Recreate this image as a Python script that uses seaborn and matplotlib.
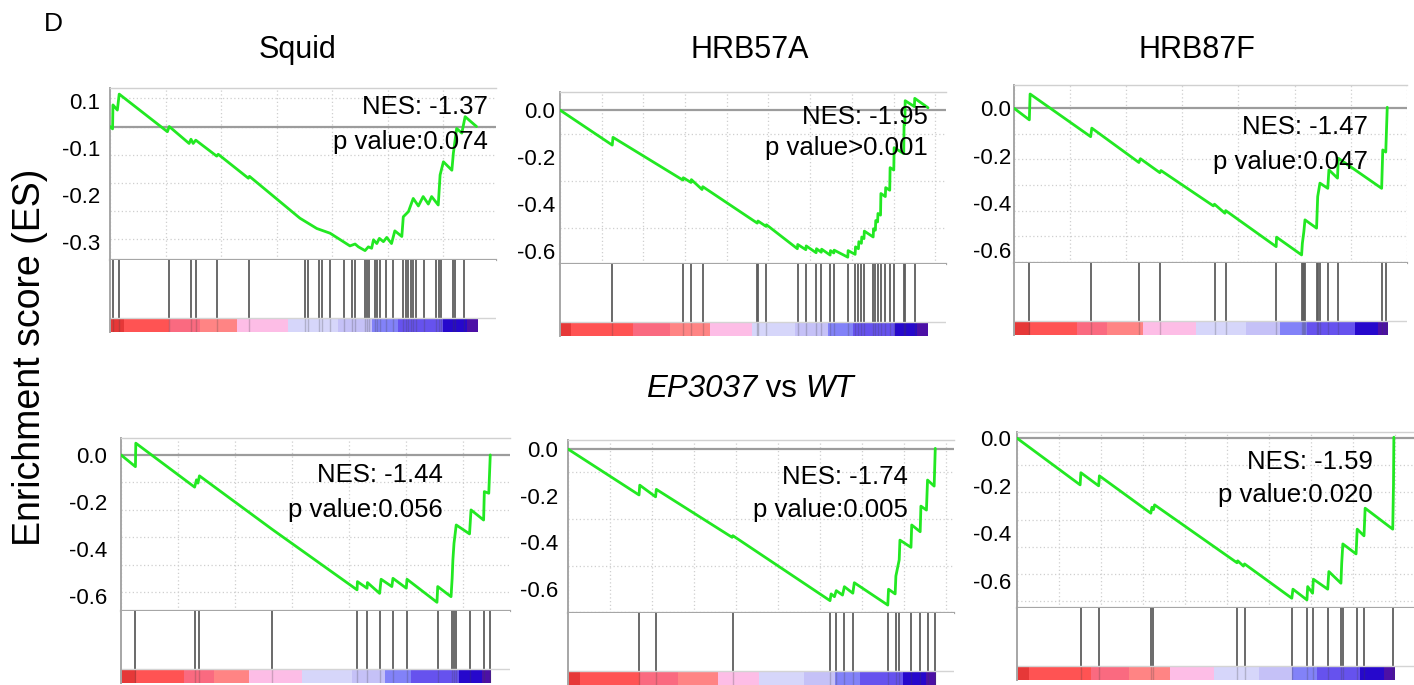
import numpy as np
import matplotlib
matplotlib.use("Agg")
import matplotlib.pyplot as plt
import seaborn as sns
from matplotlib.ticker import MultipleLocator

# ---- data --------------------------------------------------------------
# x = position in the ranked gene list (%), y = running enrichment score
genes = ["Squid", "HRB57A", "HRB87F"]
nes_top = ["-1.37", "-1.95", "-1.47"]
pval_top = [":0.074", ">0.001", ":0.047"]
nes_bot = ["-1.44", "-1.74", "-1.59"]
pval_bot = [":0.056", ":0.005", ":0.020"]

squid_top_x = [0, 0.7, 0.8, 2.0, 2.5, 15.6, 16.1, 21.5, 22.0, 22.6, 23.3, 29.0, 29.4, 37.6, 37.9,
               51.6, 56.2, 59.8, 63.4, 65.2, 66.6, 67.5, 69.3, 70.2, 71.1, 71.6, 72.5, 73.2, 74.3,
               75.2, 76.5, 77.4, 79.3, 79.7, 81.1, 82.4, 83.8, 85.1, 86.5, 87.4, 89.2, 89.7, 90.6,
               92.9, 93.3, 94.2, 95.6, 96.5, 99.6]
squid_top_y = [0, -0.005, 0.046, 0.035, 0.069, -0.011, 0.0, -0.036, -0.027, -0.036, -0.029, -0.063,
               -0.059, -0.110, -0.106, -0.195, -0.217, -0.227, -0.245, -0.254, -0.250, -0.256,
               -0.264, -0.256, -0.259, -0.241, -0.249, -0.238, -0.245, -0.236, -0.249, -0.222,
               -0.234, -0.192, -0.181, -0.153, -0.169, -0.149, -0.165, -0.149, -0.167, -0.103,
               -0.075, -0.093, -0.057, -0.004, -0.014, 0.021, 0.0]
squid_top_hits = [0.7, 2.4, 15.9, 22.0, 23.4, 29.2, 37.8, 52.9, 53.9, 56.7, 57.6, 59.8, 63.5, 65.8,
                  66.6, 69.3, 69.8, 70.4, 72.0, 72.6, 73.4, 75.0, 76.9, 79.5, 80.3, 81.1, 81.7,
                  82.3, 83.2, 85.2, 88.6, 89.3, 89.9, 93.3, 93.8, 96.3]

h57_top_x = [0, 14.2, 14.4, 33.4, 33.5, 35.6, 35.7, 38.6, 38.8, 53.6, 53.8, 56.0, 56.1, 64.5, 64.6,
             66.8, 66.9, 69.6, 69.7, 71.0, 71.1, 73.4, 73.5, 74.4, 74.5, 78.2, 78.3, 80.2, 80.3,
             81.1, 81.2, 81.9, 82.0, 82.6, 82.7, 85.1, 85.2, 85.7, 85.8, 86.3, 86.4, 87.1, 87.2,
             88.4, 88.5, 89.6, 89.7, 90.7, 90.8, 93.4, 93.5, 93.7, 93.8, 96.3, 96.4, 100]
h57_top_y = [0, -0.149, -0.116, -0.298, -0.288, -0.308, -0.296, -0.338, -0.326, -0.481, -0.472,
             -0.495, -0.488, -0.590, -0.572, -0.594, -0.578, -0.607, -0.590, -0.605, -0.592,
             -0.617, -0.598, -0.608, -0.596, -0.626, -0.598, -0.614, -0.582, -0.590, -0.560,
             -0.567, -0.540, -0.547, -0.515, -0.540, -0.505, -0.511, -0.470, -0.476, -0.440,
             -0.447, -0.355, -0.368, -0.330, -0.341, -0.245, -0.255, -0.160, -0.185, -0.060,
             -0.062, 0.040, 0.015, 0.050, 0.010]
h57_top_hits = [14.2, 33.4, 35.6, 38.8, 53.5, 53.8, 56.0, 64.6, 66.8, 69.6, 71.0, 73.4, 74.4, 78.2,
                80.2, 81.1, 81.9, 82.6, 85.1, 85.7, 86.3, 87.1, 88.4, 89.6, 90.7, 93.4, 93.7, 96.4]

h87_top_x = [0, 4.1, 4.3, 20.5, 20.8, 33.4, 33.8, 39.0, 39.3, 53.3, 53.6, 56.4, 56.6, 70.1, 70.2,
             76.9, 77.1, 77.5, 77.8, 80.9, 81.2, 81.8, 83.9, 84.2, 86.5, 86.7, 98.3, 98.6, 99.4, 99.8]
h87_top_y = [0, -0.049, 0.060, -0.120, -0.084, -0.229, -0.213, -0.272, -0.263, -0.412, -0.405,
             -0.443, -0.432, -0.584, -0.544, -0.619, -0.570, -0.521, -0.471, -0.506, -0.373,
             -0.316, -0.338, -0.260, -0.295, -0.211, -0.338, -0.176, -0.185, 0.004]
h87_top_hits = [4.1, 20.5, 33.5, 39.0, 53.7, 56.7, 70.1, 76.9, 77.2, 77.5, 77.8, 80.9, 81.4, 81.8,
                84.0, 86.5, 98.3, 99.5]

squid_bot_x = [0, 3.9, 4.0, 19.9, 20.4, 20.8, 21.2, 40.8, 63.8, 63.9, 66.5, 66.6, 69.9, 70.3, 73.2,
               73.5, 77.1, 77.3, 85.4, 85.6, 89.2, 89.5, 89.7, 90.0, 90.6, 94.2, 94.6, 98.0, 98.2,
               99.4, 99.8]
squid_bot_y = [0, -0.050, 0.050, -0.137, -0.106, -0.120, -0.089, -0.316, -0.574, -0.539, -0.567,
               -0.543, -0.589, -0.529, -0.560, -0.525, -0.567, -0.529, -0.627, -0.560, -0.603,
               -0.525, -0.447, -0.376, -0.298, -0.336, -0.234, -0.277, -0.156, -0.163, 0.0]
squid_bot_hits = [3.9, 19.9, 21.0, 40.8, 63.8, 66.5, 70.1, 73.4, 77.3, 85.6, 89.5, 89.9, 90.6,
                  94.4, 98.0, 99.8]

h57_bot_x = [0, 19.3, 19.5, 23.8, 24.0, 44.6, 44.8, 71.2, 71.5, 72.4, 72.9, 74.6, 75.1, 77.4, 77.8,
             86.9, 87.1, 88.9, 89.1, 90.0, 90.2, 93.2, 93.4, 95.7, 95.9, 97.4, 97.7, 99.5, 99.8]
h57_bot_y = [0, -0.197, -0.155, -0.205, -0.173, -0.379, -0.372, -0.651, -0.622, -0.634, -0.608,
             -0.627, -0.591, -0.619, -0.574, -0.670, -0.602, -0.622, -0.545, -0.476, -0.391,
             -0.422, -0.326, -0.355, -0.245, -0.262, -0.133, -0.159, 0.003]
h57_bot_hits = [19.3, 23.8, 44.8, 71.2, 72.9, 74.9, 77.4, 86.9, 89.1, 90.0, 93.2, 95.7, 97.7, 99.7]

h87_bot_x = [0, 16.7, 16.9, 21.6, 21.8, 35.4, 35.7, 36.1, 36.4, 58.2, 58.4, 59.9, 60.2, 72.7, 73.0,
             76.7, 76.9, 78.2, 78.4, 82.2, 82.5, 85.7, 85.9, 86.2, 89.7, 90.0, 91.8, 92.1, 99.4,
             99.6, 99.7]
h87_bot_y = [0, -0.196, -0.145, -0.200, -0.158, -0.315, -0.290, -0.300, -0.280, -0.523, -0.515,
             -0.537, -0.528, -0.672, -0.634, -0.679, -0.623, -0.651, -0.592, -0.634, -0.560,
             -0.609, -0.525, -0.444, -0.486, -0.382, -0.410, -0.294, -0.382, -0.196, 0.004]
h87_bot_hits = [16.9, 21.6, 35.5, 36.1, 58.2, 60.2, 72.7, 76.7, 78.2, 82.2, 85.7, 86.2, 89.9, 91.9,
                99.6]

# ranked-list colour bar: segment edges (%) and colours
band_colors = ["#e63838", "#ff5353", "#fa6a80", "#ff8484", "#fdbde6", "#d6d6fa",
               "#c5c1f7", "#8282f8", "#6652ee", "#2608cc", "#4c10a6"]
bands_squid_top = [0, 3.8, 16.0, 24.5, 34.5, 48.4, 62.0, 71.1, 78.3, 90.6, 96.9, 100]
bands_h57_top = [0, 3.0, 19.8, 29.9, 40.8, 52.2, 63.9, 72.8, 79.6, 91.0, 97.0, 100]
bands_h87_top = [0, 4.3, 16.8, 24.8, 34.6, 48.7, 62.0, 71.1, 78.3, 91.2, 97.4, 100]
bands_squid_bot = [0, 4.1, 17.1, 25.0, 34.6, 48.8, 62.3, 71.3, 78.5, 91.3, 97.5, 100]
bands_h57_bot = [0, 3.2, 19.5, 29.9, 40.7, 52.0, 64.2, 72.6, 79.4, 90.9, 97.2, 100]
bands_h87_bot = [0, 3.1, 19.7, 29.6, 40.6, 52.2, 64.1, 72.7, 79.3, 90.7, 97.1, 100]

# y tick labels as printed in the figure
squid_top_ticks = [0.054, -0.046, -0.146, -0.246]
squid_top_ticklabels = ["0.1", "-0.1", "-0.2", "-0.3"]
std_ticks = [0.0, -0.2, -0.4, -0.6]
std_ticklabels = ["0.0", "-0.2", "-0.4", "-0.6"]

# ---- layout (pixels of the 1414x685 canvas) -------------------------------
W, H = 1414, 685
GREEN = "#22e822"

panels = [
    # left, es_top, es_bottom, bar width, ylim, grid dx, grid dy, tick pad, nes xy, p y
    dict(x=squid_top_x, y=squid_top_y, hits=squid_top_hits, bands=bands_squid_top,
         ticks=squid_top_ticks, labels=squid_top_ticklabels, nes=nes_top[0], p=pval_top[0],
         left=110, top=88, bot=260, bw=368, ylim=(-0.284, 0.082), gdx=15.1, gdy=0.06,
         pad=7, tx=0.979, ty=(0.89, 0.686)),
    dict(x=h57_top_x, y=h57_top_y, hits=h57_top_hits, bands=bands_h57_top,
         ticks=std_ticks, labels=std_ticklabels, nes=nes_top[1], p=pval_top[1],
         left=560, top=92, bot=264, bw=368, ylim=(-0.655, 0.077), gdx=11.33, gdy=0.1,
         pad=3.5, tx=0.953, ty=(0.855, 0.674)),
    dict(x=h87_top_x, y=h87_top_y, hits=h87_top_hits, bands=bands_h87_top,
         ticks=std_ticks, labels=std_ticklabels, nes=nes_top[2], p=pval_top[2],
         left=1014, top=85, bot=263, bw=374, ylim=(-0.653, 0.098), gdx=15.0, gdy=0.108,
         pad=2, tx=0.901, ty=(0.764, 0.567)),
    dict(x=squid_bot_x, y=squid_bot_y, hits=squid_bot_hits, bands=bands_squid_bot,
         ticks=std_ticks, labels=std_ticklabels, nes=nes_bot[0], p=pval_bot[0],
         left=121, top=438, bot=611, bw=370, ylim=(-0.664, 0.072), gdx=15.4, gdy=0.117,
         pad=10, tx=0.829, ty=(0.786, 0.584)),
    dict(x=h57_bot_x, y=h57_bot_y, hits=h57_bot_hits, bands=bands_h57_bot,
         ticks=std_ticks, labels=std_ticklabels, nes=nes_bot[1], p=pval_bot[1],
         left=568, top=440, bot=613, bw=368, ylim=(-0.704, 0.039), gdx=11.4, gdy=0.1,
         pad=7, tx=0.879, ty=(0.786, 0.595)),
    dict(x=h87_bot_x, y=h87_bot_y, hits=h87_bot_hits, bands=bands_h87_bot,
         ticks=std_ticks, labels=std_ticklabels, nes=nes_bot[2], p=pval_bot[2],
         left=1017, top=432, bot=608, bw=378, ylim=(-0.713, 0.026), gdx=11.1, gdy=0.114,
         pad=4, tx=0.897, ty=(0.830, 0.642)),
]

sns.set_style("white")
plt.rcParams["font.family"] = ["Liberation Sans", "DejaVu Sans"]
plt.rcParams["text.color"] = "black"

fig = plt.figure(figsize=(W / 100, H / 100), dpi=100)


def px_axes(left, top, width, height):
    return fig.add_axes([left / W, 1 - (top + height) / H, width / W, height / H])


XMAX = 105
HITS_H = 72
BAR_H = 14

for pnl in panels:
    width = pnl["bw"] * XMAX / 100

    # running enrichment score
    ax = px_axes(pnl["left"], pnl["top"], width, pnl["bot"] - pnl["top"])
    ax.axhline(0, color="#9c9c9c", lw=1.6, zorder=1)
    sns.lineplot(x=pnl["x"], y=pnl["y"], ax=ax, color=GREEN, lw=2.0,
                 sort=False, estimator=None, zorder=3)
    ax.set_xlim(0, XMAX)
    ax.set_ylim(*pnl["ylim"])
    ax.set_xticks([])
    ax.set_yticks(pnl["ticks"])
    ax.set_yticklabels(pnl["labels"], fontsize=16)
    ax.xaxis.set_minor_locator(MultipleLocator(pnl["gdx"]))
    ax.yaxis.set_minor_locator(MultipleLocator(pnl["gdy"]))
    ax.grid(False)
    ax.grid(which="minor", ls=(0, (1, 2)), color="#cfcfcf", lw=0.9)
    ax.tick_params(which="both", length=0, pad=pnl["pad"], labelcolor="black")
    ax.set_xlabel("")
    ax.set_ylabel("")
    ax.spines["right"].set_visible(False)
    ax.spines["left"].set_color("#a6a6a6")
    ax.spines["top"].set_color("#d0d0d0")
    ax.spines["bottom"].set_color("#a6a6a6")
    ax.spines["left"].set_linewidth(1.4)
    ax.spines["bottom"].set_linewidth(1.6)
    ax.spines["top"].set_linewidth(1.0)

    ax.text(pnl["tx"], pnl["ty"][0], f"NES: {pnl['nes']}", transform=ax.transAxes,
            ha="right", va="center", fontsize=18.5, color="black", zorder=5)
    ax.text(pnl["tx"], pnl["ty"][1], f"p value{pnl['p']}", transform=ax.transAxes,
            ha="right", va="center", fontsize=18.5, color="black", zorder=5)

    # hit lines + ranked list colour bar
    hx = px_axes(pnl["left"], pnl["bot"], width, HITS_H)
    frac = BAR_H / HITS_H
    edges = np.array(pnl["bands"])
    hx.broken_barh(list(zip(edges[:-1], np.diff(edges))), (0, frac),
                   facecolors=band_colors, edgecolor="none")
    hx.vlines(pnl["hits"], frac, 1, color="#5e5e5e", lw=1.3)
    hx.vlines(pnl["hits"], 0, frac, color="#404040", lw=1.0, alpha=0.25)
    hx.axhline(frac, color="#d4d4d4", lw=1.0)
    hx.set_xlim(0, XMAX)
    hx.set_ylim(0, 1)
    hx.set_xticks([])
    hx.set_yticks([])
    for s in ["top", "right", "bottom"]:
        hx.spines[s].set_visible(False)
    hx.spines["left"].set_color("#a6a6a6")
    hx.spines["left"].set_linewidth(1.4)

# titles and labels
for gname, cx in zip(genes, [297, 750, 1197]):
    fig.text(cx / W, 1 - 50 / H, gname, ha="center", va="center", fontsize=22, color="black")

# "EP3037 vs WT" with italic genotype names, centred as one line
pieces = [("EP3037", "italic"), (" vs ", "normal"), ("WT", "italic")]
texts = [fig.text(0, 1 - 389 / H, s, style=st, ha="left", va="center",
                  fontsize=22.5, color="black") for s, st in pieces]
renderer = fig.canvas.get_renderer()
widths = [t.get_window_extent(renderer).width for t in texts]
x0 = 750 - sum(widths) / 2
for t, w in zip(texts, widths):
    t.set_x(x0 / W)
    x0 += w

fig.text(30 / W, 1 - 357 / H, "Enrichment score (ES)", rotation=90,
         ha="center", va="center", fontsize=27, color="black")
fig.text(53 / W, 1 - 24 / H, "D", ha="center", va="center", fontsize=19, color="black")

fig.savefig("out.png", dpi=100)
